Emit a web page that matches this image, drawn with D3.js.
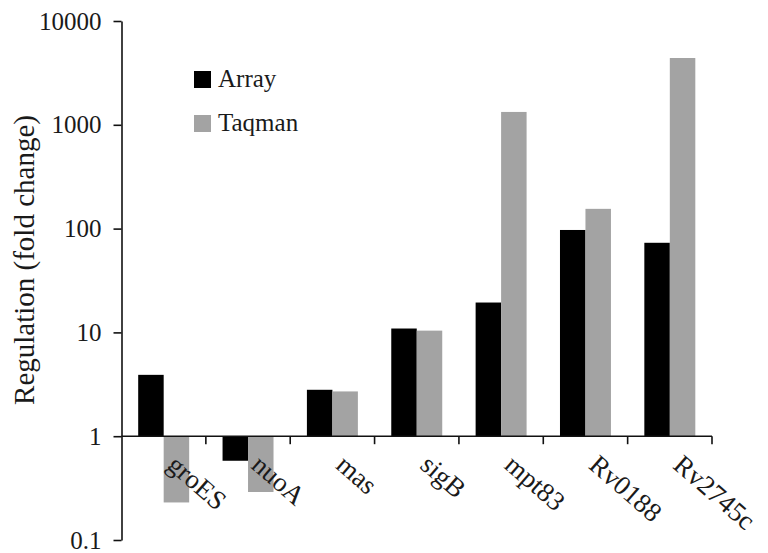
<!DOCTYPE html>
<html>
<head>
<meta charset="utf-8">
<script src="https://cdn.jsdelivr.net/npm/d3@7"></script>
<style>
  body { margin: 0; background: #fff; }
  svg text { font-family: "Liberation Serif", "Times New Roman", Times, "DejaVu Serif", serif; fill: #1a1a1a; }
</style>
</head>
<body>
<svg id="chart" width="768" height="553"></svg>
<script>
'use strict'

const genes = ['groES', 'nuoA', 'mas', 'sigB', 'mpt83', 'Rv0188', 'Rv2745c'];
const arrayValues = [3.9, 0.58, 2.8, 10.9, 19.4, 97, 73];
const taqmanValues = [0.23, 0.29, 2.7, 10.4, 1330, 155, 4400];
const seriesNames = ['Array', 'Taqman'];
const seriesColors = ['#000000', '#a3a3a3'];
const yTicks = [0.1, 1, 10, 100, 1000, 10000];

const serif = '"Liberation Serif", "Times New Roman", Times, "DejaVu Serif", serif';
const svg = d3.select('#chart');
const plotLeft = 121.5, plotRight = 712, plotTop = 21, plotBottom = 540;
const baseline = 1;

const x = d3.scaleBand()
  .domain(genes)
  .range([plotLeft, plotRight])
  .padding(0);

const x1 = d3.scaleBand()
  .domain(seriesNames)
  .range([0, x.bandwidth()])
  .paddingInner(0)
  .paddingOuter(0.655);

const y = d3.scaleLog()
  .domain([0.1, 10000])
  .range([plotBottom, plotTop]);

const rows = genes.map((g, i) => ({
  gene: g,
  values: [arrayValues[i], taqmanValues[i]]
}));

// bars grow up or down from the 1-fold line
const groups = svg.append('g')
  .selectAll('g')
  .data(rows)
  .enter().append('g')
    .attr('transform', d => 'translate(' + x(d.gene) + ',0)');

groups.selectAll('rect')
  .data(d => d.values.map((v, j) => ({ name: seriesNames[j], value: v, color: seriesColors[j] })))
  .enter().append('rect')
    .attr('x', d => x1(d.name))
    .attr('width', x1.bandwidth())
    .attr('y', d => Math.min(y(d.value), y(baseline)))
    .attr('height', d => Math.abs(y(d.value) - y(baseline)))
    .attr('fill', d => d.color);

// y axis
const yAxis = svg.append('g')
  .attr('transform', 'translate(' + plotLeft + ',0)')
  .call(d3.axisLeft(y)
    .tickValues(yTicks)
    .tickFormat(d => String(d))
    .tickSize(8)
    .tickPadding(12)
    .tickSizeOuter(0));
yAxis.select('.domain').attr('stroke', '#111').attr('stroke-width', 1.6);
yAxis.selectAll('.tick line').attr('stroke', '#111').attr('stroke-width', 1.6);
yAxis.selectAll('.tick text')
  .attr('font-family', serif)
  .attr('font-size', 25)
  .attr('fill', '#1a1a1a');

// x axis at the 1-fold line, ticks between categories
const boundaries = genes.map(g => x(g) + x.bandwidth());
const xAxisG = svg.append('g').attr('transform', 'translate(0,' + y(baseline) + ')');
xAxisG.append('line')
  .attr('x1', plotLeft).attr('x2', plotRight)
  .attr('stroke', '#111').attr('stroke-width', 1.6);
xAxisG.selectAll('line.tk')
  .data(boundaries)
  .enter().append('line')
    .attr('class', 'tk')
    .attr('x1', d => d).attr('x2', d => d)
    .attr('y1', 0).attr('y2', 8)
    .attr('stroke', '#111').attr('stroke-width', 1.6);

xAxisG.selectAll('text.cat')
  .data(genes)
  .enter().append('text')
    .attr('class', 'cat')
    .attr('font-family', serif)
    .attr('font-size', 27)
    .attr('text-anchor', 'start')
    .attr('transform', d => 'translate(' + (x(d) + x.bandwidth() / 2 + 2) + ',31) rotate(41)')
    .text(d => d);

// y axis title
svg.append('text')
  .attr('transform', 'translate(34,260) rotate(-90)')
  .attr('text-anchor', 'middle')
  .attr('font-family', serif)
  .attr('font-size', 29)
  .text('Regulation (fold change)');

// legend
const legend = svg.append('g').attr('transform', 'translate(194,71)');
const items = legend.selectAll('g')
  .data(seriesNames)
  .enter().append('g')
    .attr('transform', (d, i) => 'translate(0,' + i * 44 + ')');
items.append('rect')
  .attr('width', 17).attr('height', 17)
  .attr('fill', (d, i) => seriesColors[i]);
items.append('text')
  .attr('x', 24).attr('y', 16)
  .attr('font-family', serif)
  .attr('font-size', 25)
  .text(d => d);
</script>
</body>
</html>
